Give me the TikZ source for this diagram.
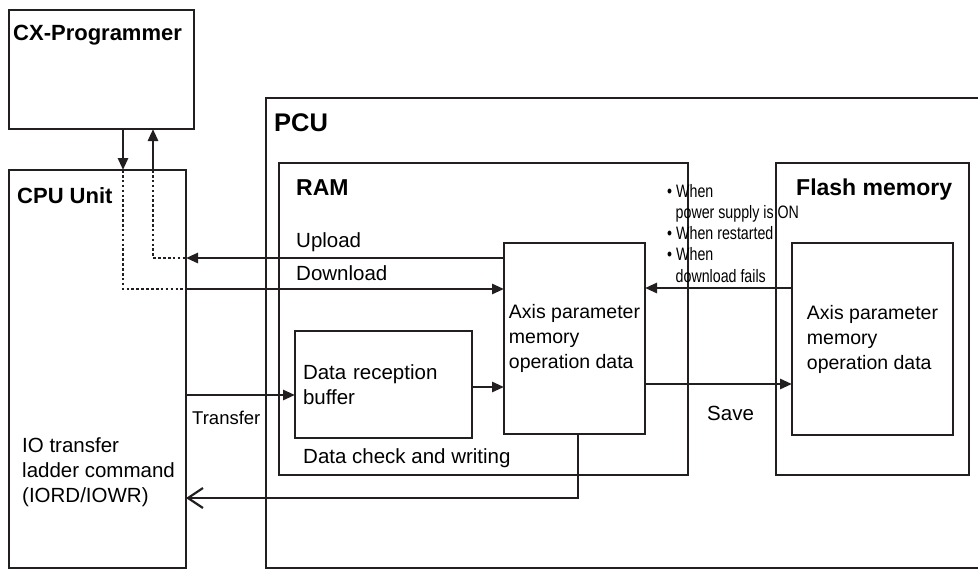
\documentclass[tikz,border=0pt]{standalone}
\usepackage{fontspec}
\setmainfont{Liberation Sans}
\newfontfamily\narrowfont[FakeStretch=0.79]{Liberation Sans}
\usetikzlibrary{arrows.meta,positioning}
\definecolor{ink}{RGB}{35,31,32}

\begin{document}
\begin{tikzpicture}[x=1pt,y=-1pt,
  font=\fontsize{20.5}{25}\selectfont,
  bbox/.style={draw=ink,line width=2.8pt,anchor=north west,outer sep=0pt},
  sbox/.style={draw=ink,line width=1.4pt,anchor=north west,outer sep=0pt,align=left},
  ttl/.style={inner sep=0pt,anchor=base west,font=\fontsize{22}{26}\selectfont\bfseries},
  lbl/.style={inner sep=0pt,anchor=base west},
  a/.style={draw=ink,line width=2.7pt,-{Triangle[length=12pt,width=10pt]}},
  ret/.style={draw=ink,line width=2.7pt,-{Straight Barb[length=15pt,width=20pt,line width=2.2pt]}},
  dot/.style={draw=ink,line width=2.8pt,dash pattern=on 2.6pt off 2.3pt}]
\clip (0,0) rectangle (978,570);
% outer units
\node[bbox,minimum width=185pt,minimum height=119pt] (cx) at (9,10) {};
\node[bbox,minimum width=177pt,minimum height=398pt] (cpu) at (9,170) {};
\node[bbox,minimum width=740pt,minimum height=470pt] (pcu) at (266,98) {};
% memories
\node[sbox,minimum width=409pt,minimum height=312pt] (ram) at (279,163) {};
\node[sbox,minimum width=193pt,minimum height=312pt] (flash) at (776,163) {};
\node[sbox,minimum width=141pt,minimum height=191pt,
      font=\fontsize{19.5}{25}\selectfont] (axis) at (504,243)
      {Axis parameter\\memory\\operation data};
\node[sbox,minimum width=161pt,minimum height=192pt,
      font=\fontsize{19.5}{25}\selectfont] (faxis) at (792,243)
      {Axis parameter\\memory\\operation data};
\node[sbox,minimum width=177pt,minimum height=107pt,text width=161pt] (buf) at (295,331)
      {Data reception\\buffer};
% titles
\node[ttl] (cxt) at (13,40) {CX-Programmer};
\node[ttl] (cput) at (17,203) {CPU Unit};
\node[ttl,font=\fontsize{25.5}{30}\selectfont\bfseries] (pcut) at (274,131) {PCU};
\node[ttl,font=\fontsize{23}{27}\selectfont\bfseries] (ramt) at (296,195) {RAM};
\node[ttl,font=\fontsize{23}{27}\selectfont\bfseries] (flasht) at (796,195) {Flash memory};
% levels of the connectors
\coordinate (dn) at (123,289);
\coordinate (up) at (153,258);
\coordinate (tr) at (0,395);
\coordinate (bx) at (0,387);
\coordinate (fl) at (0,288);
\coordinate (sv) at (0,384);
\coordinate (rt) at (578,498);
% connectors
\draw[a] (cx.south -| dn) -- (cpu.north -| dn);
\draw[a] (cpu.north -| up) -- (cx.south -| up);
\draw[dot] (cpu.north -| dn) -- (dn) -- (cpu.east |- dn);
\draw[dot] (cpu.north -| up) -- (up) -- (cpu.east |- up);
\draw[a] (cpu.east |- dn) -- (axis.west |- dn);
\draw[a] (axis.west |- up) -- (cpu.east |- up);
\draw[a] (cpu.east |- tr) -- (buf.west |- tr);
\draw[a] (buf.east |- bx) -- (axis.west |- bx);
\draw[a] (faxis.west |- fl) -- (axis.east |- fl);
\draw[a] (axis.east |- sv) -- (faxis.west |- sv);
\draw[ret] (axis.south -| rt) -- (rt) -- (cpu.east |- rt);
% labels
\node[lbl] (upl) at (296,247) {Upload};
\node[lbl] (dnl) at (296,280) {Download};
\node[lbl,font=\fontsize{18.5}{22}\selectfont] (trl) at (192,424) {Transfer};
\node[lbl] (svl) at (707,420) {Save};
\node[lbl] (chk) at (303,463) {Data check and writing};
% base of a multi-line node = its last line
\node[lbl,align=left] (cmd) at (22,502) {IO transfer\\ladder command\\(IORD/IOWR)};
\node[lbl,align=left,font=\narrowfont\fontsize{18}{21.25}\selectfont] (cond) at (667,282)
  {\makebox[9pt][l]{\textbullet}When\\\hspace*{8.5pt}power supply is ON\\
   \makebox[9pt][l]{\textbullet}When restarted\\\makebox[9pt][l]{\textbullet}When\\
   \hspace*{8.5pt}download fails};
\end{tikzpicture}
\end{document}
